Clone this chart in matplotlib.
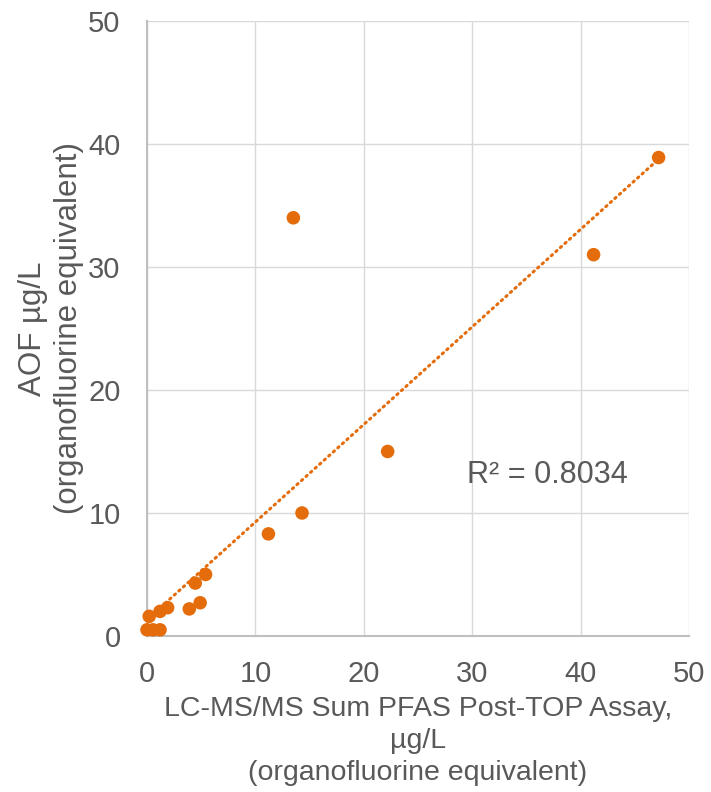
import numpy as np
import matplotlib
matplotlib.use('Agg')
import matplotlib.pyplot as plt

plt.rcParams['font.family'] = ['Liberation Sans', 'DejaVu Sans']

# LC-MS/MS sum PFAS post-TOP (x) vs AOF (y), µg/L
pfas_top = [0.0, 0.55, 1.2, 0.2, 1.2, 1.9, 3.9, 4.9, 4.45, 5.4,
            11.2, 14.3, 22.2, 13.5, 41.2, 47.2]
aof = [0.5, 0.5, 0.5, 1.6, 2.0, 2.3, 2.2, 2.7, 4.3, 5.0,
       8.3, 10.0, 15.0, 34.0, 31.0, 38.9]

ticks = [0, 10, 20, 30, 40, 50]

orange = '#E46C0A'
grey_text = '#595959'

fig = plt.figure(figsize=(7.11, 7.92), dpi=100)
ax = fig.add_axes([0.2068, 0.197, 0.7622, 0.7765])

x = np.array(pfas_top)
y = np.array(aof)

# linear trendline, drawn from min x to max x like Excel
slope, intercept = np.polyfit(x, y, 1)
xs = np.array([x.min(), x.max()])
ax.plot(xs, slope * xs + intercept, color=orange, lw=2.2,
        linestyle=(0, (0.5, 1.5)), dash_capstyle='round', zorder=2)

ax.scatter(x, y, s=95, color=orange, edgecolors='none', zorder=3, clip_on=False)

ax.set_xlim(0, 50)
ax.set_ylim(0, 50)
ax.set_xticks(ticks)
ax.set_yticks(ticks)
ax.grid(True, color='#d9d9d9', lw=1.0)
ax.set_axisbelow(True)
for s in ['top', 'right']:
    ax.spines[s].set_visible(False)
for s in ['left', 'bottom']:
    ax.spines[s].set_color('#bfbfbf')
    ax.spines[s].set_linewidth(1.5)
ax.tick_params(length=0, labelsize=21, colors=grey_text)
ax.tick_params(axis='y', pad=19)
ax.tick_params(axis='x', pad=17)

ax.text(29.5, 13.1, 'R² = 0.8034', fontsize=22, color=grey_text, va='center')

ax.set_xlabel('LC-MS/MS Sum PFAS Post-TOP Assay,\nµg/L\n(organofluorine equivalent)',
              fontsize=20.5, color=grey_text, labelpad=6, linespacing=1.3)
ax.set_ylabel('AOF µg/L\n(organofluorine equivalent)',
              fontsize=22.5, color=grey_text, labelpad=3, linespacing=1.25)

fig.savefig('out.png', dpi=100)
